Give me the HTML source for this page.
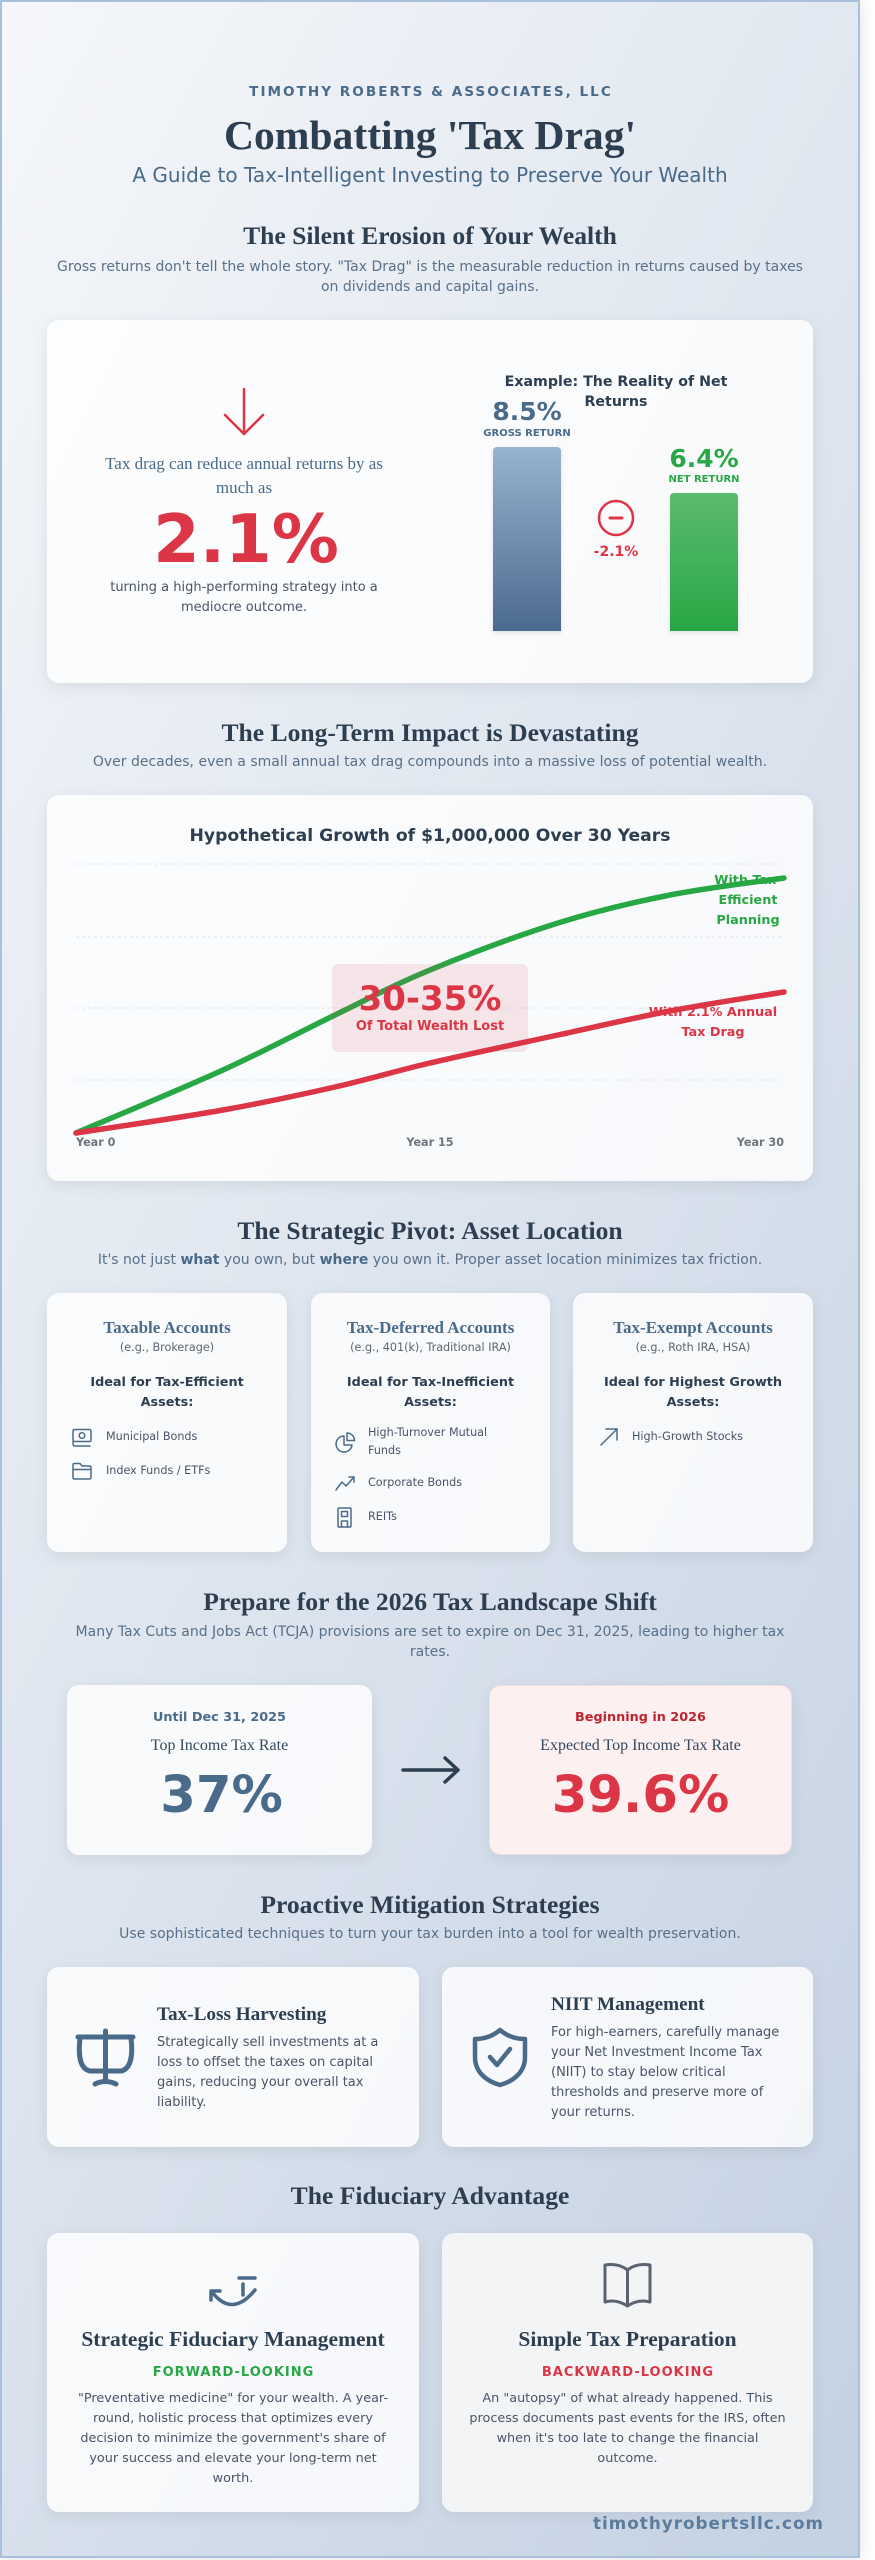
<!DOCTYPE html>
<html><head><meta charset="utf-8">
<style>
*{margin:0;padding:0;box-sizing:border-box}
html,body{width:875px;height:2560px;background:#fff;overflow:hidden}
#c{position:absolute;left:0;top:0;width:860px;height:2558px;background:linear-gradient(117deg,#f5f7fa 0%,#c3d1e2 100%);box-shadow:0 0 18px rgba(0,0,0,0.12);font-family:"DejaVu Sans",sans-serif}
#bd{position:absolute;left:0;top:0;width:860px;height:2558px;border:2px solid #a8c0dc;z-index:20}
.t{position:absolute;white-space:nowrap;z-index:6}
.ctr{text-align:center}
.card{position:absolute;background:rgba(255,255,255,0.8);border-radius:12px;box-shadow:0 4px 15px rgba(0,0,0,0.08)}
.h2{font-family:"Liberation Serif",serif;font-weight:bold;font-size:25.6px;line-height:32px;color:#2c3e50;left:0;width:860px;text-align:center}
.p{font-size:14px;line-height:20px;color:#587089;left:0;width:860px;text-align:center}
.serif{font-family:"Liberation Serif",serif}
.ct{font-family:"Liberation Serif",serif;font-weight:bold;font-size:17px;line-height:24px;color:#4a6a8a;text-align:center}
.cs{font-size:11.2px;line-height:16px;color:#5c6670;text-align:center}
.ci{font-size:12.8px;line-height:20px;font-weight:bold;color:#2c3e50;text-align:center}
.li{font-size:11.2px;line-height:18px;color:#4a5568}
.desc{font-size:13px;line-height:20px;color:#4a5568}
.fd{font-size:12.8px;line-height:20px;color:#4a5568;text-align:center}
svg{position:absolute;left:0;top:0;z-index:5}
</style></head>
<body>
<div id="c">
<div id="bd"></div>

<!-- Header -->
<div class="t ctr" style="top:82px;left:0;width:860px;padding-left:2px;font-size:13.6px;line-height:20px;font-weight:bold;letter-spacing:2px;color:#4a6a8a">TIMOTHY ROBERTS &amp; ASSOCIATES, LLC</div>
<div class="t ctr serif" style="top:110px;left:0;width:860px;font-size:41.6px;line-height:50px;font-weight:bold;color:#2c3e50">Combatting 'Tax Drag'</div>
<div class="t ctr" style="top:161px;left:0;width:860px;font-size:20px;line-height:28px;color:#4a6a8a">A Guide to Tax-Intelligent Investing to Preserve Your Wealth</div>

<!-- Section 1 -->
<div class="t h2" style="top:220px">The Silent Erosion of Your Wealth</div>
<div class="t p" style="top:257px">Gross returns don't tell the whole story. "Tax Drag" is the measurable reduction in returns caused by taxes<br>on dividends and capital gains.</div>

<div class="card" style="left:47px;top:320px;width:766px;height:363px"></div>
<div class="t ctr serif" style="top:452px;left:44px;width:400px;font-size:17px;line-height:24px;color:#4a6a8a">Tax drag can reduce annual returns by as<br>much as</div>
<div class="t ctr" style="top:499px;left:46px;width:400px;font-size:67px;line-height:80px;font-weight:bold;color:#dc3545">2.1%</div>
<div class="t ctr" style="top:578px;left:44px;width:400px;font-size:13px;line-height:20px;color:#4a5568">turning a high-performing strategy into a<br>mediocre outcome.</div>

<div class="t ctr" style="top:372px;left:466px;width:300px;font-size:14.2px;line-height:20px;font-weight:bold;color:#2c3e50">Example: The Reality of Net<br>Returns</div>
<div class="t ctr" style="top:397px;left:427px;width:200px;font-size:25px;line-height:30px;font-weight:bold;color:#4a6a8a">8.5%</div>
<div class="t ctr" style="top:427px;left:427px;width:200px;font-size:10px;line-height:14px;font-weight:bold;color:#4a6a8a">GROSS RETURN</div>
<div style="position:absolute;left:493px;top:447px;width:68px;height:184px;border-radius:4px 4px 0 0;background:linear-gradient(180deg,#97b3cf 0%,#4b6a8f 100%);box-shadow:0 2px 5px rgba(0,0,0,0.1)"></div>
<div class="t ctr" style="top:444px;left:604px;width:200px;font-size:25px;line-height:30px;font-weight:bold;color:#28a745">6.4%</div>
<div class="t ctr" style="top:473px;left:604px;width:200px;font-size:10px;line-height:14px;font-weight:bold;color:#28a745">NET RETURN</div>
<div style="position:absolute;left:670px;top:493px;width:68px;height:138px;border-radius:4px 4px 0 0;background:linear-gradient(180deg,#5cbb6e 0%,#28a745 100%);box-shadow:0 2px 5px rgba(0,0,0,0.1)"></div>
<div class="t ctr" style="top:543px;left:566px;width:100px;font-size:14px;line-height:18px;font-weight:bold;color:#dc3545">-2.1%</div>

<!-- Section 2 -->
<div class="t h2" style="top:717px">The Long-Term Impact is Devastating</div>
<div class="t p" style="top:752px">Over decades, even a small annual tax drag compounds into a massive loss of potential wealth.</div>
<div class="card" style="left:47px;top:795px;width:766px;height:386px"></div>
<div class="t ctr" style="top:824px;left:0;width:860px;font-size:17.2px;line-height:24px;font-weight:bold;color:#2c3e50">Hypothetical Growth of $1,000,000 Over 30 Years</div>

<!-- Section 3 -->
<div class="t h2" style="top:1215px">The Strategic Pivot: Asset Location</div>
<div class="t p" style="top:1250px">It's not just <b style="color:#4a6a8a">what</b> you own, but <b style="color:#4a6a8a">where</b> you own it. Proper asset location minimizes tax friction.</div>

<div class="card" style="left:47px;top:1293px;width:240px;height:259px"></div>
<div class="card" style="left:311px;top:1293px;width:239px;height:259px"></div>
<div class="card" style="left:573px;top:1293px;width:240px;height:259px"></div>

<div class="t ct" style="top:1316px;left:47px;width:240px">Taxable Accounts</div>
<div class="t cs" style="top:1340px;left:47px;width:240px">(e.g., Brokerage)</div>
<div class="t ci" style="top:1373px;left:47px;width:240px">Ideal for Tax-Efficient<br>Assets:</div>
<div class="t li" style="top:1428px;left:106px">Municipal Bonds</div>
<div class="t li" style="top:1462px;left:106px">Index Funds / ETFs</div>

<div class="t ct" style="top:1316px;left:311px;width:239px">Tax-Deferred Accounts</div>
<div class="t cs" style="top:1340px;left:311px;width:239px">(e.g., 401(k), Traditional IRA)</div>
<div class="t ci" style="top:1373px;left:311px;width:239px">Ideal for Tax-Inefficient<br>Assets:</div>
<div class="t li" style="top:1424px;left:368px">High-Turnover Mutual<br>Funds</div>
<div class="t li" style="top:1474px;left:368px">Corporate Bonds</div>
<div class="t li" style="top:1508px;left:368px">REITs</div>

<div class="t ct" style="top:1316px;left:573px;width:240px">Tax-Exempt Accounts</div>
<div class="t cs" style="top:1340px;left:573px;width:240px">(e.g., Roth IRA, HSA)</div>
<div class="t ci" style="top:1373px;left:573px;width:240px">Ideal for Highest Growth<br>Assets:</div>
<div class="t li" style="top:1428px;left:632px">High-Growth Stocks</div>

<!-- Section 4 -->
<div class="t h2" style="top:1586px">Prepare for the 2026 Tax Landscape Shift</div>
<div class="t p" style="top:1622px">Many Tax Cuts and Jobs Act (TCJA) provisions are set to expire on Dec 31, 2025, leading to higher tax<br>rates.</div>

<div class="card" style="left:67px;top:1685px;width:305px;height:170px"></div>
<div style="position:absolute;left:489px;top:1685px;width:303px;height:170px;border-radius:12px;background:#fdf0f1;border:1px solid #f6dde0;box-shadow:0 4px 15px rgba(0,0,0,0.08)"></div>
<div class="t ctr" style="top:1709px;left:67px;width:305px;font-size:12.8px;line-height:18px;font-weight:bold;color:#4a6a8a">Until Dec 31, 2025</div>
<div class="t ctr serif" style="top:1735px;left:67px;width:305px;font-size:16px;line-height:22px;color:#34495e">Top Income Tax Rate</div>
<div class="t ctr" style="top:1765px;left:69px;width:305px;font-size:51.2px;line-height:60px;font-weight:bold;color:#4a6a8a">37%</div>
<div class="t ctr" style="top:1709px;left:489px;width:303px;font-size:12.8px;line-height:18px;font-weight:bold;color:#c0232f">Beginning in 2026</div>
<div class="t ctr serif" style="top:1735px;left:489px;width:303px;font-size:16px;line-height:22px;color:#34495e">Expected Top Income Tax Rate</div>
<div class="t ctr" style="top:1765px;left:489px;width:303px;font-size:51.2px;line-height:60px;font-weight:bold;color:#dc3545">39.6%</div>

<!-- Section 5 -->
<div class="t h2" style="top:1889px">Proactive Mitigation Strategies</div>
<div class="t p" style="top:1924px">Use sophisticated techniques to turn your tax burden into a tool for wealth preservation.</div>
<div class="card" style="left:47px;top:1967px;width:372px;height:180px"></div>
<div class="card" style="left:442px;top:1967px;width:371px;height:180px"></div>
<div class="t serif" style="top:2002px;left:157px;font-size:19.2px;line-height:26px;font-weight:bold;color:#2c3e50">Tax-Loss Harvesting</div>
<div class="t desc" style="top:2033px;left:157px">Strategically sell investments at a<br>loss to offset the taxes on capital<br>gains, reducing your overall tax<br>liability.</div>
<div class="t serif" style="top:1992px;left:551px;font-size:19.2px;line-height:26px;font-weight:bold;color:#2c3e50">NIIT Management</div>
<div class="t desc" style="top:2023px;left:551px">For high-earners, carefully manage<br>your Net Investment Income Tax<br>(NIIT) to stay below critical<br>thresholds and preserve more of<br>your returns.</div>

<!-- Section 6 -->
<div class="t h2" style="top:2180px">The Fiduciary Advantage</div>
<div class="card" style="left:47px;top:2233px;width:372px;height:279px"></div>
<div style="position:absolute;left:442px;top:2233px;width:371px;height:279px;border-radius:12px;background:rgba(244,245,247,0.94);box-shadow:0 4px 15px rgba(0,0,0,0.06)"></div>
<div class="t ctr serif" style="top:2325px;left:47px;width:372px;font-size:21.5px;line-height:28px;font-weight:bold;color:#2c3e50">Strategic Fiduciary Management</div>
<div class="t ctr" style="top:2364px;left:47px;width:372px;padding-left:1px;font-size:13px;line-height:18px;font-weight:bold;letter-spacing:1px;color:#28a745">FORWARD-LOOKING</div>
<div class="t fd" style="top:2389px;left:47px;width:372px">"Preventative medicine" for your wealth. A year-<br>round, holistic process that optimizes every<br>decision to minimize the government's share of<br>your success and elevate your long-term net<br>worth.</div>
<div class="t ctr serif" style="top:2325px;left:442px;width:371px;font-size:21.5px;line-height:28px;font-weight:bold;color:#2c3e50">Simple Tax Preparation</div>
<div class="t ctr" style="top:2364px;left:442px;width:371px;padding-left:1px;font-size:13px;line-height:18px;font-weight:bold;letter-spacing:1px;color:#dc3545">BACKWARD-LOOKING</div>
<div class="t fd" style="top:2389px;left:442px;width:371px">An "autopsy" of what already happened. This<br>process documents past events for the IRS, often<br>when it's too late to change the financial<br>outcome.</div>

<div class="t" style="top:2512px;left:523px;width:301px;text-align:right;font-size:16.8px;line-height:22px;font-weight:bold;letter-spacing:1px;color:#5d7c9c">timothyrobertsllc.com</div>

<svg width="860" height="2558" viewBox="0 0 860 2558" xmlns="http://www.w3.org/2000/svg">
  <g fill="none" stroke="#dc3545" stroke-width="2.5" stroke-linecap="round" stroke-linejoin="round">
    <path d="M244,389 V434"/>
    <path d="M225,415 L244,434 L263,415"/>
    <circle cx="616" cy="518" r="17"/>
    <path d="M610,518 H622" stroke-width="3"/>
  </g>

  <g stroke="#dfe4ea" stroke-width="1" stroke-dasharray="3 3">
    <line x1="76" y1="864" x2="784" y2="864"/>
    <line x1="76" y1="937" x2="784" y2="937"/>
    <line x1="76" y1="1008" x2="784" y2="1008"/>
    <line x1="76" y1="1080" x2="784" y2="1080"/>
  </g>
  <g font-family="DejaVu Sans, sans-serif" font-weight="bold" font-size="12.8" text-anchor="middle">
    <text x="748" y="884" fill="#28a745">With Tax-</text>
    <text x="748" y="904" fill="#28a745">Efficient</text>
    <text x="748" y="924" fill="#28a745">Planning</text>
    <text x="713" y="1016" fill="#dc3545">With 2.1% Annual</text>
    <text x="713" y="1036" fill="#dc3545">Tax Drag</text>
  </g>
  <path fill="none" stroke="#28a745" stroke-width="5.5" stroke-linecap="round"
    d="M76,1133 C100.5,1122.5 179.8,1089.7 223,1070 C266.2,1050.3 300.5,1031.7 335,1015 C369.5,998.3 392.8,985.3 430,970 C467.2,954.7 518,935.5 558,923 C598,910.5 632.3,902.5 670,895 C707.7,887.5 765,880.8 784,878"/>
  <path fill="none" stroke="#dc3545" stroke-width="5.5" stroke-linecap="round"
    d="M76,1133 C100.5,1129.2 179.8,1117.7 223,1110 C266.2,1102.3 300.5,1094.8 335,1087 C369.5,1079.2 392.8,1071.7 430,1063 C467.2,1054.3 518,1043.7 558,1035 C598,1026.3 632.3,1018.2 670,1011 C707.7,1003.8 765,995.2 784,992"/>
  <rect x="332" y="964" width="196" height="88" rx="6" fill="rgba(220,53,69,0.11)"/>
  <text x="430" y="1010" text-anchor="middle" font-family="DejaVu Sans, sans-serif" font-weight="bold" font-size="34" fill="#dc3545">30-35%</text>
  <text x="430" y="1030" text-anchor="middle" font-family="DejaVu Sans, sans-serif" font-weight="bold" font-size="13" fill="#dc3545">Of Total Wealth Lost</text>
  <g font-family="DejaVu Sans, sans-serif" font-weight="bold" font-size="11.2" fill="#6c757d">
    <text x="76" y="1146">Year 0</text>
    <text x="430" y="1146" text-anchor="middle">Year 15</text>
    <text x="784" y="1146" text-anchor="end">Year 30</text>
  </g>

  <g fill="none" stroke="#4a6a8a" stroke-width="1.5" stroke-linecap="round" stroke-linejoin="round">
    <rect x="73" y="1429.5" width="18" height="12" rx="1.5"/>
    <circle cx="82" cy="1435.5" r="2.8"/>
    <path d="M73,1442 V1444 Q73,1446 75,1446 H90"/>
    <path d="M73,1465 Q73,1463.5 74.5,1463.5 H80 L82,1466 H89.5 Q91,1466 91,1467.5 V1477.5 Q91,1479 89.5,1479 H74.5 Q73,1479 73,1477.5 Z M73,1469.5 H91"/>
    <path d="M344,1436 A8,8 0 1,0 352,1445 H344 Z"/>
    <path d="M347,1433 A7.5,7.5 0 0,1 354.5,1440.5 H347 Z"/>
    <path d="M336,1490 L342,1482 L346,1486 L354,1477"/>
    <path d="M349,1477 H354 V1482"/>
    <rect x="338" y="1508" width="13" height="19" rx="1"/>
    <rect x="341.5" y="1511.5" width="6" height="5"/>
    <path d="M341.5,1527 V1521 H347.5 V1527"/>
    <path d="M601,1445 L617,1429"/>
    <path d="M606,1429 H617 V1440"/>
  </g>

  <g fill="none" stroke="#2c3e50" stroke-width="3.5" stroke-linecap="round" stroke-linejoin="round">
    <path d="M403,1770 H457"/>
    <path d="M445,1758 L458,1770 L445,1782"/>
  </g>

  <g fill="none" stroke="#4a6a8a" stroke-width="5" stroke-linecap="round" stroke-linejoin="round">
    <path d="M78,2037 H133"/>
    <path d="M105.5,2031 V2080"/>
    <path d="M80,2038 C78,2055 80,2069 90,2071 H121 C131,2069 133,2055 131,2038"/>
    <path d="M95,2084 Q105.5,2079 116,2084"/>
  </g>
  <g fill="none" stroke="#4a6a8a" stroke-width="4.5" stroke-linecap="round" stroke-linejoin="round">
    <path d="M500,2030 C507,2036 516,2039 525,2039 V2057 C525,2072 514,2081 500,2085 C486,2081 475,2072 475,2057 V2039 C484,2039 493,2036 500,2030 Z"/>
    <path d="M490,2057 L497,2065 L510,2049"/>
  </g>
  <g fill="none" stroke="#4a6a8a" stroke-width="3.5" stroke-linecap="round" stroke-linejoin="round">
    <path d="M212,2292 Q232,2318 255,2290"/>
    <path d="M211,2300 V2291 H220"/>
    <path d="M239,2278 H255"/>
    <path d="M243,2284 V2295"/>
  </g>
  <g fill="none" stroke="#5b6370" stroke-width="3" stroke-linecap="round" stroke-linejoin="round">
    <path d="M627.5,2270 C620,2264 611,2264 605,2265 V2302 C612,2300 620,2301 627.5,2306 C635,2301 643,2300 650,2302 V2265 C644,2264 635,2264 627.5,2270 Z"/>
    <path d="M627.5,2270 V2305"/>
  </g>
</svg>
</div>
</body></html>
